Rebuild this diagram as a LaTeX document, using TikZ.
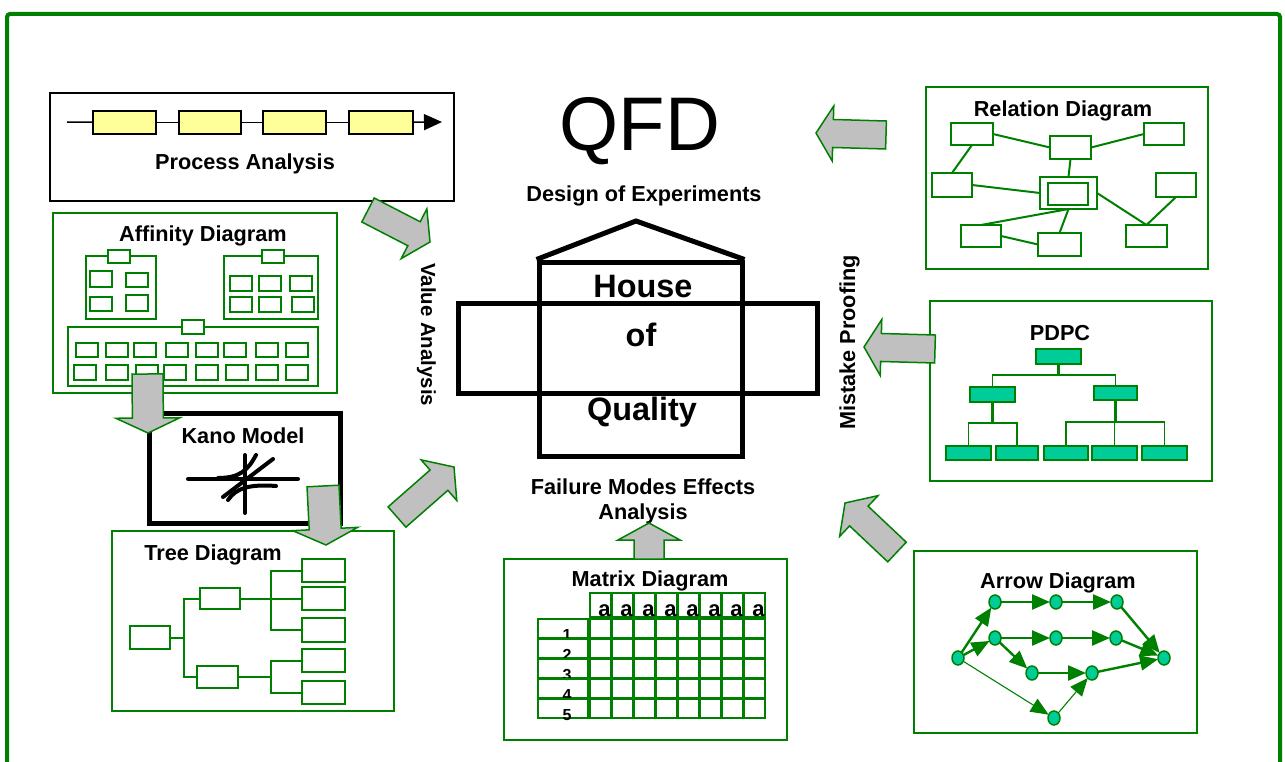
\documentclass[tikz,border=0pt]{standalone}
\usepackage{fontspec}
\setmainfont{Liberation Sans}
\usetikzlibrary{calc,arrows.meta,shapes.geometric}

\definecolor{qgreen}{RGB}{0,128,0}
\definecolor{qteal}{RGB}{0,204,153}
\definecolor{qyellow}{RGB}{255,255,153}
\definecolor{qgray}{RGB}{192,192,192}

% rectangle node given by its corners: [style]{name}{x1}{y1}{x2}{y2}
\newcommand\rbox[6][]{%
  \node[#1, minimum width={(#5)-(#3)}, minimum height={(#6)-(#4)}]
    (#2) at ({((#3)+(#5))/2},{((#4)+(#6))/2}) {};}

% block arrow from a tail coordinate to a tip coordinate:
% {tail}{tip}{half shaft width}{half head width}{head length}
\newcommand\fatarrow[5]{%
  \path ($(#2)!#5!(#1)$) coordinate (fa-h);
  \draw[garrow] ($(#1)!#3!90:(#2)$) -- ($(fa-h)!#3!90:(#2)$)
    -- ($(fa-h)!#4!90:(#2)$) -- (#2) -- ($(fa-h)!#4!-90:(#2)$)
    -- ($(fa-h)!#3!-90:(#2)$) -- ($(#1)!#3!-90:(#2)$) -- cycle;}

\newcommand\qlabelfont{\fontsize{21.7}{26}\selectfont\bfseries}

\begin{document}
\begin{tikzpicture}[x=1pt,y=-1pt,
  panel/.style={draw=qgreen, line width=2pt, inner sep=0pt, outer sep=0pt},
  gbox/.style={draw=qgreen, line width=2pt, inner sep=0pt, outer sep=0pt},
  wbox/.style={gbox, fill=white},
  tbox/.style={draw=qgreen, line width=1.8pt, fill=qteal, inner sep=0pt, outer sep=0pt},
  ybox/.style={draw=black, line width=1.5pt, fill=qyellow, inner sep=0pt, outer sep=0pt},
  gline/.style={draw=qgreen, line width=2pt},
  thinline/.style={draw=qgreen, line width=1.3pt},
  hline/.style={draw=black, line width=5pt, line join=miter},
  kline/.style={draw=black, line width=4pt, line cap=round},
  garrow/.style={fill=qgray, draw=qgreen, line width=1.5pt, line join=miter},
  anode/.style={ellipse, draw=qgreen, line width=1.5pt, fill=qteal,
    minimum width=12pt, minimum height=14pt, inner sep=0pt, outer sep=0pt},
  aedge/.style={draw=qgreen, line width=2.4pt, -{Triangle[length=18pt,width=15pt]}},
  aedgethin/.style={draw=qgreen, line width=1.1pt, -{Triangle[length=18pt,width=15pt]}},
  title/.style={font=\qlabelfont, anchor=base, inner sep=0pt},
]
\useasboundingbox (0,0) rectangle (1285,762);

% outer frame
\draw[qgreen, line width=4pt, rounded corners=3pt] (7,780) -- (7,14) -- (1280,14) -- (1280,780);

% ---------- Process Analysis ----------
\rbox[draw=black, line width=1.2pt, inner sep=0pt]{procpanel}{50}{93}{454}{201}
\rbox[ybox]{p1}{93}{111}{156}{134}
\rbox[ybox]{p2}{179}{111}{241}{134}
\rbox[ybox]{p3}{263}{111}{326}{134}
\rbox[ybox]{p4}{349}{111}{413}{134}
\coordinate (pstart) at (67,122);
\coordinate (pend) at (442,122);
\draw[line width=1.5pt] (pstart) -- (p1);
\draw[line width=1.5pt] (p1) -- (p2);
\draw[line width=1.5pt] (p2) -- (p3);
\draw[line width=1.5pt] (p3) -- (p4);
\draw[line width=1.5pt, -{Triangle[length=18pt,width=16pt]}] (p4) -- (pend);
\node[title] (proctitle) at (245,170) {Process Analysis};

% ---------- Affinity Diagram ----------
\rbox[panel]{affpanel}{53}{213}{337}{393}
\node[title] (afftitle) at (203,241) {Affinity Diagram};
\rbox[gbox]{ag1}{86}{256}{156}{319}
\rbox[wbox]{ag1h}{108}{250}{130}{263}
\rbox[gbox]{ag1a}{90}{271}{112}{287}
\rbox[gbox]{ag1b}{126}{273}{148}{287}
\rbox[gbox]{ag1c}{90}{297}{112}{311}
\rbox[gbox]{ag1d}{126}{295}{148}{311}
\rbox[gbox]{ag2}{224}{256}{318}{319}
\rbox[wbox]{ag2h}{262}{250}{284}{263}
\foreach \x [count=\i] in {230,259,290} {\rbox[gbox]{ag2a\i}{\x}{276}{\x+22}{291}}
\foreach \x [count=\i] in {230,259,292} {\rbox[gbox]{ag2b\i}{\x}{297}{\x+22}{312}}
\rbox[gbox]{ag3}{68}{327}{318}{386}
\rbox[wbox]{ag3h}{182}{320}{204}{334}
\foreach \x [count=\i] in {76,106,134,166,196,224,256,286} {\rbox[gbox]{ag3a\i}{\x}{343}{\x+22}{357}}
\foreach \x [count=\i] in {74,106,136,164,196,226,256,286} {\rbox[gbox]{ag3b\i}{\x}{365}{\x+22}{380}}

% ---------- Kano Model ----------
\rbox[draw=black, line width=5pt, fill=white, inner sep=0pt]{kanopanel}{149}{413}{340}{523}
\node[title] (kanotitle) at (243,443) {Kano Model};
\draw[kline] (188,479) -- (298,479);
\draw[kline] (245,455) -- (245,513);
\draw[kline] (223,497) -- (273,459);
\draw[kline] (218,478) .. controls (240,478) and (248,470) .. (256,455);
\draw[kline] (228,500) .. controls (236,488) and (250,484) .. (276,486);

% ---------- Tree Diagram ----------
\rbox[panel]{treepanel}{112}{531}{394}{711}
\node[title] (treetitle) at (213,560) {Tree Diagram};
\rbox[gbox]{troot}{130}{626}{170}{649}
\rbox[gbox]{tm1}{200}{588}{240}{609}
\rbox[gbox]{tm2}{197}{666}{238}{688}
\rbox[gbox]{tl1}{302}{559}{345}{582}
\rbox[gbox]{tl2}{302}{587}{345}{610}
\rbox[gbox]{tl3}{302}{618}{345}{642}
\rbox[gbox]{tl4}{302}{649}{345}{672}
\rbox[gbox]{tl5}{302}{681}{345}{704}
\draw[gline] (troot.east) -- ++(14,0) |- (tm1.west);
\draw[gline] (troot.east) -- ++(14,0) |- (tm2.west);
\foreach \l in {tl1,tl2,tl3} {\draw[gline] (tm1.east) -- ++(31,0) |- (\l.west);}
\foreach \l in {tl4,tl5} {\draw[gline] (tm2.east) -- ++(33,0) |- (\l.west);}

% ---------- House of Quality ----------
\node[font=\fontsize{76}{80}\selectfont, anchor=base, inner sep=0pt] (qfd) at (640,151) {QFD};
\node[title] (doe) at (644,202) {Design of Experiments};
\rbox[draw=black, line width=5pt, inner sep=0pt]{hmain}{539}{262}{742}{456}
\rbox[draw=black, line width=5pt, inner sep=0pt]{hwide}{458}{303}{817}{393}
\draw[hline] (hmain.north west) -- (636,221) -- (hmain.north east);
\node[font=\fontsize{32.4}{36}\selectfont\bfseries, anchor=base, inner sep=0pt] (house) at (643,297) {House};
\node[font=\fontsize{32.4}{36}\selectfont\bfseries, anchor=base, inner sep=0pt] (hof) at (641,346) {of};
\node[font=\fontsize{32.4}{36}\selectfont\bfseries, anchor=base, inner sep=0pt] (quality) at (642,420) {Quality};
\node[title] (fmea1) at (643,494) {Failure Modes Effects};
\node[title] (fmea2) at (643,519) {Analysis};
\node[font=\fontsize{20.4}{24}\selectfont\bfseries, rotate=-90, anchor=base west, inner sep=0pt] (va) at (421,263) {Value Analysis};
\node[font=\qlabelfont, rotate=90, anchor=base west, inner sep=0pt] (mp) at (855,430) {Mistake Proofing};

% ---------- Matrix Diagram ----------
\rbox[panel]{matpanel}{504}{559}{787}{740}
\node[title] (mattitle) at (650,586) {Matrix Diagram};
\foreach \c in {0,...,7} {
  \rbox[gbox]{mh\c}{590+22*\c}{593}{611+22*\c}{617}
  \node[font=\fontsize{22}{24}\selectfont\bfseries, anchor=base, inner sep=0pt] (ma\c) at (604.5+22*\c,616) {a};
  \foreach \r in {0,...,4} {\rbox[gbox]{mc\c\r}{590+22*\c}{619+20*\r}{611+22*\c}{638+20*\r}}
}
\foreach \r [count=\n] in {0,...,4} {
  \rbox[gbox]{mr\r}{538}{619+20*\r}{588}{638+20*\r}
  \node[font=\fontsize{16}{18}\selectfont\bfseries, anchor=base, inner sep=0pt] (mn\r) at (567,640+20*\r) {\n};
}

% ---------- Arrow Diagram ----------
\rbox[panel]{arrpanel}{914}{551}{1197}{733}
\node[title] (arrtitle) at (1058,588) {Arrow Diagram};
\node[anode] (adA) at (958,658) {};
\node[anode] (adB) at (995,602) {};
\node[anode] (adC) at (1056,602) {};
\node[anode] (adD) at (1117,602) {};
\node[anode] (adE) at (995,638) {};
\node[anode] (adF) at (1056,638) {};
\node[anode] (adG) at (1116,638) {};
\node[anode] (adH) at (1164,658) {};
\node[anode] (adI) at (1032,673) {};
\node[anode] (adJ) at (1092,673) {};
\node[anode] (adK) at (1054,718) {};
\draw[aedge] (adA) -- (adB);
\draw[aedge] (adA) -- (adE);
\draw[aedgethin] (adA) -- (adK);
\draw[aedge] (adB) -- (adC);
\draw[aedge] (adC) -- (adD);
\draw[aedge] (adD) -- (adH);
\draw[aedge] (adE) -- (adF);
\draw[aedge] (adF) -- (adG);
\draw[aedge] (adG) -- (adH);
\draw[aedge] (adE) -- (adI);
\draw[aedge] (adI) -- (adJ);
\draw[aedge] (adJ) -- (adH);
\draw[aedgethin] (adK) -- (adJ);

% ---------- PDPC ----------
\rbox[panel]{pdpcpanel}{930}{301}{1212}{481}
\node[title] (pdpctitle) at (1060,340) {PDPC};
\rbox[tbox]{pt}{1036}{349}{1081}{364}
\rbox[tbox]{pl}{970}{387}{1015}{402}
\rbox[tbox]{pr}{1094}{386}{1137}{400}
\rbox[tbox]{pq1}{946}{446}{991}{460}
\rbox[tbox]{pq2}{996}{446}{1038}{460}
\rbox[tbox]{pq3}{1044}{446}{1088}{460}
\rbox[tbox]{pq4}{1092}{446}{1137}{460}
\rbox[tbox]{pq5}{1142}{446}{1187}{460}
\draw[thinline] (pt.south) -- ++(0,11) -| (pl.north);
\draw[thinline] (pt.south) -- ++(0,11) -| (pr.north);
\draw[line width=2.2pt, qgreen] (pt.south) -- ++(0,11);
\draw[thinline] (pl.south) -- ++(0,21) -| (pq1.north);
\draw[thinline] (pl.south) -- ++(0,21) -| (pq2.north);
\draw[line width=2.2pt, qgreen] (pl.south) -- ++(0,21);
\draw[thinline] (pr.south) -- ++(0,22) -| (pq3.north);
\draw[thinline] (pr.south) -- ++(0,22) -| (pq4.north);
\draw[thinline] (pr.south) -- ++(0,22) -| (pq5.north);
\draw[line width=2.5pt, qgreen] (pr.south) -- ++(0,22);

% ---------- Relation Diagram ----------
\rbox[panel]{relpanel}{926}{87}{1208}{269}
\node[title] (reltitle) at (1063,117) {Relation Diagram};
\rbox[gbox]{r1}{951}{123}{993}{145}
\rbox[gbox]{r2}{1050}{136}{1091}{159}
\rbox[gbox]{r3}{1144}{123}{1184}{145}
\rbox[gbox]{r4}{932}{173}{972}{197}
\rbox[gbox]{r5o}{1040}{177}{1097}{209}
\rbox[gbox]{r5}{1048}{183}{1088}{205}
\rbox[gbox]{r6}{1156}{173}{1196}{197}
\rbox[gbox]{r7}{961}{225}{1001}{247}
\rbox[gbox]{r8}{1038}{233}{1081}{256}
\rbox[gbox]{r9}{1126}{225}{1167}{247}
\draw[gline] (r1.east) -- (r2.west);
\draw[gline] (r2.east) -- (r3.west);
\draw[gline] (r1.south) -- (r4.north);
\draw[gline] (r2.south) -- (r5o.north);
\draw[gline] (r4.east) -- (r5o.west);
\draw[gline] (r5o.south) -- (r7.north);
\draw[gline] (r5o.south) -- (r8.north);
\draw[gline] (r7.east) -- (r8.west);
\draw[gline] (r5o.east) -- (r9.north);
\draw[gline] (r6.south) -- (r9.north);

% ---------- block arrows ----------
\coordinate (va1t) at (368,210);  \coordinate (va1h) at (430,242);
\fatarrow{va1t}{va1h}{13.5pt}{28pt}{18pt}
\coordinate (va2t) at (397,517);  \coordinate (va2h) at (454,467);
\fatarrow{va2t}{va2h}{13.5pt}{27pt}{20pt}
\coordinate (relt) at (886,135);  \coordinate (relh) at (816,133);
\fatarrow{relt}{relh}{14pt}{27.5pt}{17pt}
\coordinate (pdpct) at (935,349); \coordinate (pdpch) at (864,347);
\fatarrow{pdpct}{pdpch}{14pt}{28pt}{17pt}
\coordinate (arrt) at (897,552);  \coordinate (arrh) at (845,503);
\fatarrow{arrt}{arrh}{13.5pt}{28pt}{19pt}
\coordinate (matt) at (649,559);  \coordinate (math) at (649,523);
\fatarrow{matt}{math}{15pt}{31pt}{17pt}
\coordinate (afft) at (147.5,374); \coordinate (affh) at (148,433);
\fatarrow{afft}{affh}{15.5pt}{32pt}{15pt}
\coordinate (kanot) at (323,486); \coordinate (kanoh) at (326,545);
\fatarrow{kanot}{kanoh}{16pt}{32.5pt}{16pt}
\end{tikzpicture}
\end{document}
